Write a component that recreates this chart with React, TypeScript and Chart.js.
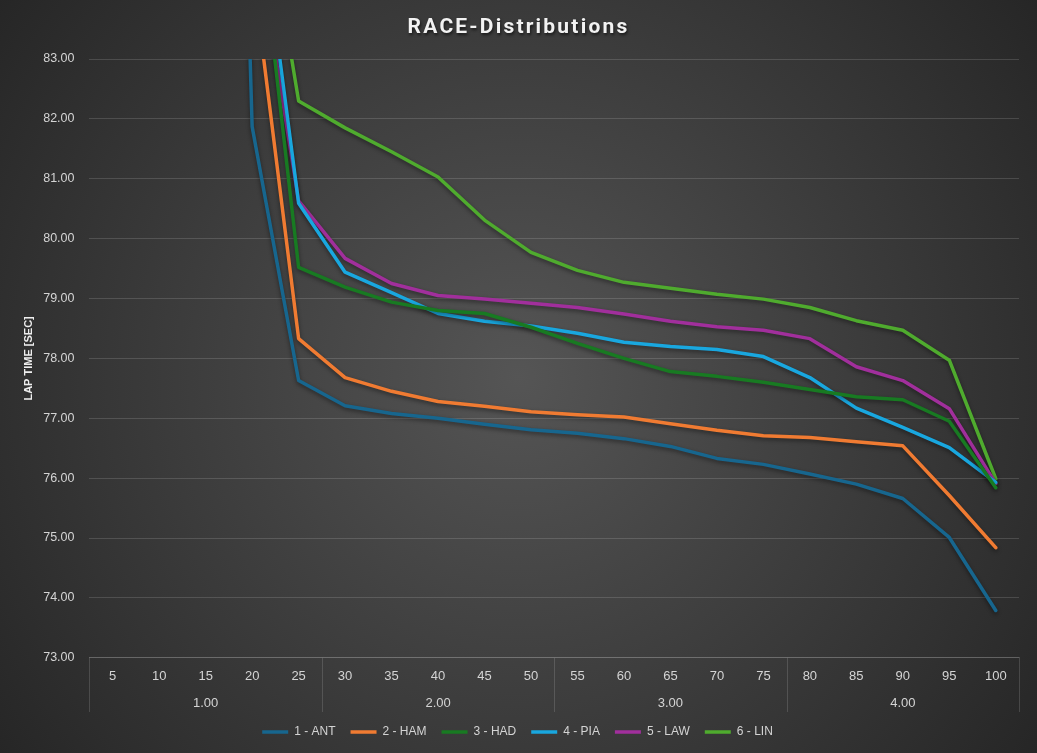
import { useEffect, useRef } from "react";
import { Chart, registerables } from "chart.js";

Chart.register(...registerables);

// laps, grouped by stint
const LAPS = ["5", "10", "15", "20", "25", "30", "35", "40", "45", "50", "55", "60", "65", "70", "75", "80", "85", "90", "95", "100"];
const STINTS = ["1.00", "2.00", "3.00", "4.00"];
const STINT_SIZE = 5;

// lap times [sec] per driver (first laps are above the visible range)
const ANT = [120.0, 114.0, 108.0, 81.87, 77.63, 77.21, 77.08, 77.0, 76.9, 76.81, 76.75, 76.66, 76.53, 76.33, 76.23, 76.07, 75.9, 75.66, 75.01, 73.79];
const HAM = [98.0, 92.0, 88.0, 84.55, 78.33, 77.68, 77.45, 77.28, 77.2, 77.11, 77.06, 77.02, 76.91, 76.8, 76.71, 76.68, 76.61, 76.54, 75.71, 74.84];
const HAD = [99.0, 94.0, 90.0, 86.3, 79.52, 79.19, 78.94, 78.8, 78.75, 78.52, 78.25, 78.0, 77.78, 77.7, 77.6, 77.48, 77.36, 77.31, 76.95, 75.84];
const PIA = [99.5, 94.5, 90.5, 86.55, 80.59, 79.44, 79.1, 78.75, 78.62, 78.54, 78.42, 78.27, 78.2, 78.15, 78.03, 77.68, 77.17, 76.85, 76.51, 75.93];
const LAW = [98.5, 93.0, 89.0, 85.5, 80.63, 79.67, 79.25, 79.05, 78.99, 78.92, 78.85, 78.74, 78.62, 78.53, 78.47, 78.33, 77.86, 77.63, 77.16, 75.91];
const LIN = [100.0, 95.0, 91.0, 87.0, 82.3, 81.85, 81.45, 81.03, 80.31, 79.77, 79.47, 79.27, 79.17, 79.07, 78.99, 78.85, 78.63, 78.47, 77.97, 75.99];

const TITLE = "RACE-Distributions";
const FONT = "'Liberation Sans', Arial, sans-serif";
const TEXT = "#d4d4d4";
const GRID = "rgba(255,255,255,0.14)";

const series = [
  { label: "1 - ANT", data: ANT, color: "#17668e" },
  { label: "2 - HAM", data: HAM, color: "#f07b32" },
  { label: "3 - HAD", data: HAD, color: "#187a22" },
  { label: "4 - PIA", data: PIA, color: "#19a7df" },
  { label: "5 - LAW", data: LAW, color: "#a12f9c" },
  { label: "6 - LIN", data: LIN, color: "#4fab2e" },
];

// radial grey background + title with spacing and shadow
const backdrop = {
  id: "backdrop",
  beforeDraw(chart: Chart) {
    const { ctx, width, height } = chart;
    ctx.save();
    const g = ctx.createRadialGradient(width / 2, height / 2, 0, width / 2, height / 2, width * 0.62);
    g.addColorStop(0, "#555555");
    g.addColorStop(1, "#262626");
    ctx.fillStyle = g;
    ctx.fillRect(0, 0, width, height);
    ctx.restore();
  },
  afterDraw(chart: Chart) {
    const { ctx, width } = chart;
    ctx.save();
    ctx.font = `bold 21px Roboto, ${FONT}`;
    (ctx as any).letterSpacing = "2.2px";
    ctx.textAlign = "center";
    ctx.textBaseline = "middle";
    ctx.shadowColor = "rgba(0,0,0,0.6)";
    ctx.shadowBlur = 3;
    ctx.shadowOffsetX = 1;
    ctx.shadowOffsetY = 2;
    ctx.fillStyle = "#f2f2f2";
    ctx.fillText(TITLE, width / 2, 28);
    ctx.restore();
  },
};

// soft drop shadow under the lines
const lineShadow = {
  id: "lineShadow",
  beforeDatasetsDraw(chart: Chart) {
    const ctx = chart.ctx;
    ctx.save();
    ctx.shadowColor = "rgba(0,0,0,0.45)";
    ctx.shadowBlur = 4;
    ctx.shadowOffsetY = 2;
  },
  afterDatasetsDraw(chart: Chart) {
    chart.ctx.restore();
  },
};

// vertical separators between the stint groups of the x axis
const stintLines = {
  id: "stintLines",
  afterDraw(chart: Chart) {
    const x = chart.scales.x;
    const x2 = chart.scales.x2;
    const ctx = chart.ctx;
    const top = x.top;
    const bottom = x2.bottom + 1;
    const step = x.getPixelForValue(1) - x.getPixelForValue(0);
    ctx.save();
    ctx.strokeStyle = GRID;
    ctx.lineWidth = 1;
    for (let i = 0; i <= LAPS.length; i += STINT_SIZE) {
      const px = Math.round(x.getPixelForValue(i) - step / 2) + 0.5;
      ctx.beginPath();
      ctx.moveTo(px, top);
      ctx.lineTo(px, bottom);
      ctx.stroke();
    }
    ctx.restore();
  },
};

export default function App() {
  const canvasRef = useRef<HTMLCanvasElement>(null);

  useEffect(() => {
    const ctx = canvasRef.current?.getContext("2d");
    if (!ctx) return;
    const chart = new Chart(ctx, {
      type: "line",
      data: {
        labels: LAPS,
        datasets: series.map((s) => ({
          label: s.label,
          data: s.data,
          borderColor: s.color,
          backgroundColor: s.color,
          borderWidth: 3.5,
          borderCapStyle: "round" as const,
          borderJoinStyle: "round" as const,
          pointRadius: 0,
          pointHoverRadius: 0,
          tension: 0,
          fill: false,
        })),
      },
      options: {
        responsive: true,
        maintainAspectRatio: false,
        animation: false,
        layout: { padding: { top: 59, right: 18, left: 16, bottom: 5 } },
        plugins: {
          title: { display: false },
          tooltip: { enabled: false },
          legend: {
            position: "bottom",
            labels: {
              color: TEXT,
              font: { family: FONT, size: 12 },
              usePointStyle: true,
              pointStyle: "line",
              pointStyleWidth: 26,
              padding: 15,
            },
          },
        },
        scales: {
          x: {
            type: "category",
            offset: true,
            grid: { display: false, drawTicks: false },
            border: { display: true, color: GRID },
            ticks: {
              color: TEXT,
              font: { family: FONT, size: 13 },
              padding: 11,
              maxRotation: 0,
              autoSkip: false,
            },
          },
          x2: {
            type: "category",
            labels: STINTS,
            position: "bottom",
            offset: true,
            grid: { display: false, drawTicks: false },
            border: { display: false },
            ticks: {
              color: TEXT,
              font: { family: FONT, size: 13 },
              padding: 0,
              maxRotation: 0,
            },
          },
          y: {
            min: 73,
            max: 83,
            grid: { color: GRID, drawTicks: false },
            border: { display: false },
            ticks: {
              stepSize: 1,
              color: TEXT,
              font: { family: FONT, size: 12.5 },
              padding: 15,
              callback: (v) => Number(v).toFixed(2),
            },
            title: {
              display: true,
              text: "LAP TIME [SEC]",
              color: "#eeeeee",
              font: { family: FONT, size: 11, weight: "bold" },
              padding: { top: 6, bottom: -7 },
            },
          },
        },
      },
      plugins: [backdrop, lineShadow, stintLines],
    });
    return () => chart.destroy();
  }, []);

  return (
    <div style={{ position: "fixed", left: 0, top: 0, width: "100vw", height: "100vh", background: "#2a2a2a" }}>
      <canvas ref={canvasRef} />
    </div>
  );
}
